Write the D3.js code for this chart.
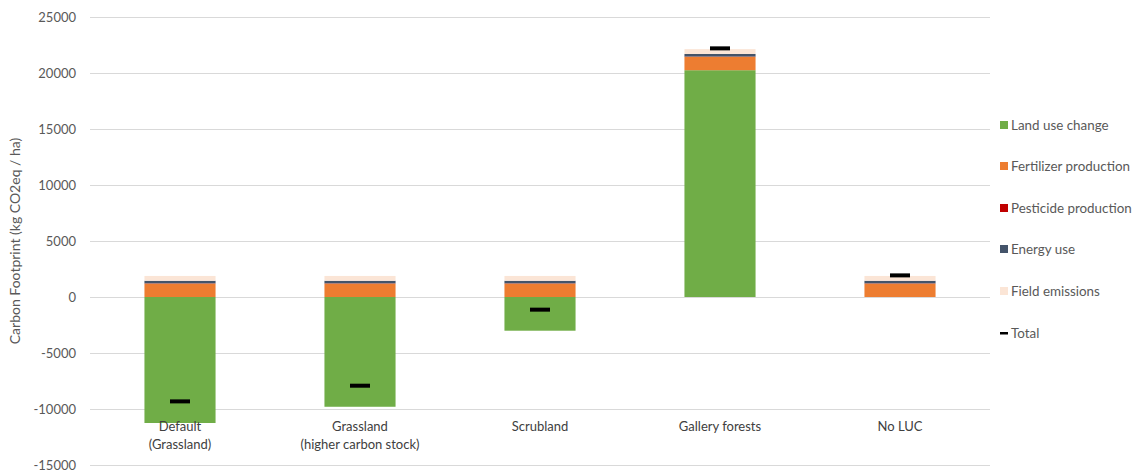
<!DOCTYPE html>
<html>
<head>
  <meta charset="utf-8">
  <script src="https://d3js.org/d3.v7.min.js"></script>
  <style>
    body { margin: 0; background: #fff; }
    svg text { font-family: Lato, "Open Sans", sans-serif; }
  </style>
</head>
<body>
<script>
  "use strict";
  // chart values
  var categories = ["Default\n(Grassland)", "Grassland\n(higher carbon stock)", "Scrubland", "Gallery forests", "No LUC"];
  var seriesNames = ["Land use change", "Fertilizer production", "Pesticide production", "Energy use", "Field emissions"];
  var landUseChange = [-11250, -9800, -3010, 20250, 0];
  var fertilizer = [1200, 1200, 1200, 1200, 1200];
  var pesticide = [20, 20, 20, 20, 20];
  var energyUse = [230, 230, 230, 230, 230];
  var fieldEmissions = [430, 430, 430, 430, 430];
  var totals = [-9320, -7920, -1130, 22200, 1930];
  var yTicks = [-15000, -10000, -5000, 0, 5000, 10000, 15000, 20000, 25000];
  var colors = ["#70AD47", "#ED7D31", "#C00000", "#44546A", "#FBE5D6"];

  function drawChart() {
    var width = 1135, height = 473;
    var plotLeft = 90, plotRight = 990, plotTop = 17, plotBottom = 465;

    var svg = d3.select("body").append("svg")
        .attr("width", width)
        .attr("height", height);

    var x = d3.scaleBand().domain(d3.range(categories.length))
        .range([plotLeft, plotRight]).paddingInner(0.605).paddingOuter(0.3025);
    var y = d3.scaleLinear().domain([-15000, 25000]).range([plotBottom, plotTop]);

    // gridlines
    svg.append("g").selectAll("line")
        .data(yTicks)
        .enter().append("line")
        .attr("x1", plotLeft).attr("x2", plotRight)
        .attr("y1", function(d) { return Math.round(y(d)) + 0.5; })
        .attr("y2", function(d) { return Math.round(y(d)) + 0.5; })
        .attr("stroke", "#d9d9d9")
        .attr("stroke-width", 1);

    // y tick labels
    svg.append("g").selectAll("text")
        .data(yTicks)
        .enter().append("text")
        .attr("x", 76)
        .attr("y", function(d) { return y(d) + 4.5; })
        .attr("text-anchor", "end")
        .attr("font-size", 13)
        .attr("fill", "#595959")
        .text(function(d) { return d; });

    // y title
    svg.append("text")
        .attr("transform", "translate(20,241) rotate(-90)")
        .attr("text-anchor", "middle")
        .attr("font-size", 14)
        .attr("fill", "#595959")
        .text("Carbon Footprint (kg CO2eq / ha)");

    // stacked bars, positives and negatives stacked separately
    var series = [landUseChange, fertilizer, pesticide, energyUse, fieldEmissions];
    var posBase = categories.map(function() { return 0; });
    var negBase = categories.map(function() { return 0; });
    series.forEach(function(vals, s) {
      var rects = vals.map(function(v, i) {
        var y0, y1;
        if (v >= 0) { y0 = posBase[i]; y1 = y0 + v; posBase[i] = y1; }
        else { y0 = negBase[i]; y1 = y0 + v; negBase[i] = y1; }
        return { i: i, y0: y0, y1: y1 };
      });
      svg.append("g").selectAll("rect")
          .data(rects)
          .enter().append("rect")
          .attr("x", function(d) { return x(d.i); })
          .attr("width", x.bandwidth())
          .attr("y", function(d) { return y(Math.max(d.y0, d.y1)); })
          .attr("height", function(d) { return Math.abs(y(d.y0) - y(d.y1)); })
          .attr("fill", colors[s]);
    });

    // total markers
    svg.append("g").selectAll("rect")
        .data(totals)
        .enter().append("rect")
        .attr("x", function(d, i) { return x(i) + x.bandwidth() / 2 - 10; })
        .attr("y", function(d) { return y(d) - 2; })
        .attr("width", 20)
        .attr("height", 4)
        .attr("fill", "#000");

    // category labels
    var cat = svg.append("g").selectAll("text")
        .data(categories)
        .enter().append("text")
        .attr("x", function(d, i) { return x(i) + x.bandwidth() / 2; })
        .attr("y", 431)
        .attr("text-anchor", "middle")
        .attr("font-size", 13)
        .attr("fill", "#404040");
    cat.each(function(d) {
      var t = d3.select(this);
      d.split("\n").forEach(function(line, k) {
        t.append("tspan")
          .attr("x", t.attr("x"))
          .attr("dy", k === 0 ? 0 : 18)
          .text(line);
      });
    });

    // legend
    var legendY = [125, 166, 208, 249, 291];
    var legend = svg.append("g").selectAll("g")
        .data(seriesNames)
        .enter().append("g")
        .attr("transform", function(d, i) { return "translate(1000," + legendY[i] + ")"; });
    legend.append("rect")
        .attr("x", 0).attr("y", -4)
        .attr("width", 8).attr("height", 8)
        .attr("fill", function(d, i) { return colors[i]; });
    legend.append("text")
        .attr("x", 11).attr("y", 4.5)
        .attr("font-size", 13.4)
        .attr("fill", "#595959")
        .text(function(d) { return d; });

    var tot = svg.append("g").attr("transform", "translate(1000,333)");
    tot.append("rect").attr("x", 0).attr("y", -1).attr("width", 8).attr("height", 2.5).attr("fill", "#000");
    tot.append("text").attr("x", 11).attr("y", 4.5)
        .attr("font-size", 13.4).attr("fill", "#595959").text("Total");
  }

  drawChart();
</script>
</body>
</html>
